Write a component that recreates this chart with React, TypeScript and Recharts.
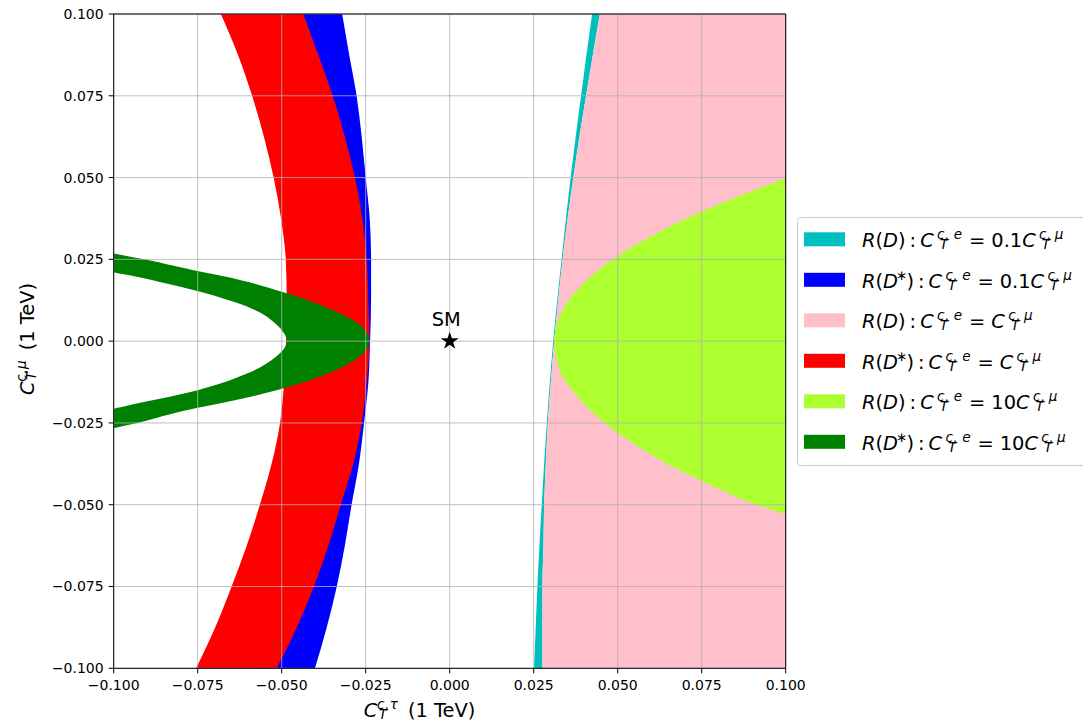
import React from 'react'
import {
  ComposedChart,
  Area,
  XAxis,
  YAxis,
  ReferenceLine,
  ReferenceDot,
  Legend,
} from 'recharts'

const ticks = [-0.1, -0.075, -0.05, -0.025, 0, 0.025, 0.05, 0.075, 0.1]

// common y grid for the wide bands
const bandY = [-0.1, -0.0875, -0.075, -0.0625, -0.05, -0.0375, -0.025, -0.0125, 0, 0.0125, 0.025, 0.0375, 0.05, 0.0625, 0.075, 0.0875, 0.1]

// R(D): C_T^e = 0.1 C_T^mu  (cyan)
const cyanLo = [0.0251, 0.0256, 0.0261, 0.0267, 0.0274, 0.0281, 0.0289, 0.0298, 0.0308, 0.032, 0.0333, 0.0346, 0.036, 0.0375, 0.0391, 0.0407, 0.0424]
const cyanHi = [0.0276, 0.0276, 0.0276, 0.0279, 0.0281, 0.0286, 0.0292, 0.0301, 0.0311, 0.0323, 0.0336, 0.0351, 0.0368, 0.0386, 0.0406, 0.0426, 0.0447]

// R(D*): C_T^e = 0.1 C_T^mu  (blue, inner edge hidden under red)
const blueLo = [-0.058, -0.052, -0.047, -0.042, -0.038, -0.035, -0.032, -0.031, -0.03, -0.03, -0.031, -0.032, -0.034, -0.037, -0.041, -0.045, -0.05]
const blueHi = [-0.0401, -0.0366, -0.0336, -0.0312, -0.0292, -0.027, -0.0255, -0.0242, -0.0237, -0.0234, -0.0234, -0.0238, -0.025, -0.0262, -0.0277, -0.0299, -0.032]

// R(D): C_T^e = C_T^mu  (pink)
const pinkLo = [0.0276, 0.0276, 0.0276, 0.0279, 0.0281, 0.0286, 0.0292, 0.0301, 0.0311, 0.0323, 0.0336, 0.0351, 0.0368, 0.0386, 0.0406, 0.0426, 0.0447]
const pinkHi = [0.1, 0.1, 0.1, 0.1, 0.1, 0.1, 0.1, 0.1, 0.1, 0.1, 0.1, 0.1, 0.1, 0.1, 0.1, 0.1, 0.1]

// R(D*): C_T^e = C_T^mu  (red)
const redLo = [-0.0755, -0.0698, -0.0649, -0.0604, -0.0565, -0.053, -0.0505, -0.0493, -0.0487, -0.0485, -0.0488, -0.0502, -0.0524, -0.0553, -0.0588, -0.063, -0.0681]
const redHi = [-0.0515, -0.0455, -0.0404, -0.0361, -0.0324, -0.0287, -0.0262, -0.0247, -0.0239, -0.0242, -0.0247, -0.026, -0.0282, -0.0312, -0.0348, -0.0391, -0.0436]

// R(D): C_T^e = 10 C_T^mu  (greenyellow)
const limeY = [-0.0529, -0.05, -0.045, -0.04, -0.035, -0.03, -0.025, -0.02, -0.015, -0.01, -0.005, 0, 0.005, 0.01, 0.015, 0.02, 0.025, 0.03, 0.035, 0.04, 0.045, 0.0498]
const limeLo = [0.1, 0.0911, 0.0797, 0.0695, 0.0605, 0.0527, 0.0461, 0.0407, 0.0365, 0.0331, 0.0317, 0.0311, 0.0318, 0.0339, 0.0374, 0.0423, 0.0486, 0.0563, 0.0654, 0.0759, 0.0878, 0.1]
const limeHi = [0.1, 0.1, 0.1, 0.1, 0.1, 0.1, 0.1, 0.1, 0.1, 0.1, 0.1, 0.1, 0.1, 0.1, 0.1, 0.1, 0.1, 0.1, 0.1, 0.1, 0.1, 0.1]

// R(D*): C_T^e = 10 C_T^mu  (green)
const greenY = [-0.0266, -0.025, -0.0208, -0.02, -0.015, -0.01, -0.005, 0, 0.005, 0.01, 0.015, 0.02, 0.0212, 0.025, 0.0268]
const greenLo = [-0.1, -0.1, -0.1, -0.097, -0.075, -0.0605, -0.052, -0.0485, -0.0515, -0.059, -0.074, -0.0945, -0.1, -0.1, -0.1]
const greenHi = [-0.1, -0.093, -0.077, -0.073, -0.0515, -0.0365, -0.0272, -0.0239, -0.0268, -0.036, -0.0497, -0.068, -0.074, -0.091, -0.1]

const smX = [0]
const smY = [0]

const legendColors = ['#00bfbf', '#0000ff', '#ffc0cb', '#ff0000', '#adff2f', '#008000']
const legendStar = [false, true, false, true, false, true]
const legendCoef = ['0.1', '0.1', '', '', '10', '10']

const band = (ys: number[], lo: number[], hi: number[]) => ys.map((y, i) => ({ y, x: [lo[i], hi[i]] }))

const fmt = (v: number) => (v < 0 ? '\u2212' : '') + Math.abs(v).toFixed(3)

const FONT = 'DejaVu Sans, sans-serif'

// C_T^{a,b} drawn with svg tspans (sub and sup stacked)
function CT({ a, b, fs, cDx = 0, tDx, sDx, gap }: { a: string; b: string; fs: number; cDx?: number; tDx: number; sDx: number; gap: number }) {
  const s = fs * 0.7
  return (
    <>
      <tspan fontStyle="italic" dx={cDx}>C</tspan>
      <tspan fontStyle="italic" fontSize={s} dx={tDx} dy={2}>T</tspan>
      <tspan fontSize={s} dx={-s * 0.611 + sDx} dy={-10}>
        <tspan fontStyle="italic">{a}</tspan>
        <tspan>,</tspan>
        <tspan fontStyle="italic" dx={gap}>{b}</tspan>
      </tspan>
      <tspan dy={8}>{'\u200A'}</tspan>
    </>
  )
}

function XTitle() {
  return (
    <text x={419.5} y={717} textAnchor="middle" fontSize={19.4} fontFamily={FONT} fill="#000">
      <CT a="c" b="τ" fs={19.4} tDx={1.5} sDx={0} gap={1} />
      <tspan dx={8}>(1 TeV)</tspan>
    </text>
  )
}

function YTitle() {
  return (
    <text x={33.5} y={339} transform="rotate(-90 33.5 339)" textAnchor="middle" fontSize={19.4} fontFamily={FONT} fill="#000">
      <CT a="c" b="μ" fs={19.4} tDx={1.5} sDx={0} gap={1} />
      <tspan dx={8}>(1 TeV)</tspan>
    </text>
  )
}

function StarMark(props: any) {
  const { cx, cy } = props
  const R = 9.5
  const r = R * 0.382
  const pts: string[] = []
  for (let k = 0; k < 10; k++) {
    const a = (Math.PI / 5) * k - Math.PI / 2
    const rad = k % 2 === 0 ? R : r
    pts.push(`${cx + rad * Math.cos(a)},${cy + rad * Math.sin(a)}`)
  }
  return (
    <g>
      <polygon points={pts.join(' ')} fill="#000" />
      <text x={cx - 3.5} y={cy - 15} textAnchor="middle" fontSize={19.4} fontFamily={FONT} fill="#000">
        SM
      </text>
    </g>
  )
}

function LegendBox() {
  const fs = 19.4
  return (
    <svg width={292} height={250} style={{ overflow: 'visible', display: 'block' }}>
      <rect x={0.5} y={0.5} width={300} height={248} rx={3} fill="#fff" stroke="#cccccc" />
      {legendColors.map((c, i) => {
        const cy = 22.3 + i * 40.5
        const star = legendStar[i]
        return (
          <g key={c}>
            <rect x={7} y={cy - 7} width={41} height={14} fill={c} />
            <text x={65} y={cy + 7.7} fontSize={fs} fontFamily={FONT} fill="#000">
              <tspan fontStyle="italic">R</tspan>
              <tspan>(</tspan>
              <tspan fontStyle="italic">D</tspan>
              {star && <tspan fontSize={fs * 0.7} dx={-2} dy={-7.6}>∗</tspan>}
              <tspan dx={star ? -1 : 0} dy={star ? 7.6 : 0}>)</tspan>
              <tspan dx={4}>:</tspan>
              <CT a="c" b="e" fs={fs} cDx={4} tDx={6} sDx={-1} gap={5} />
              <tspan dx={5}>=</tspan>
              {legendCoef[i] ? <tspan dx={6}>{legendCoef[i]}</tspan> : null}
              <CT a="c" b="μ" fs={fs} cDx={legendCoef[i] ? 0 : 6} tDx={6} sDx={-1} gap={4} />
            </text>
          </g>
        )
      })}
    </svg>
  )
}

const tickStyle = { fill: '#000', fontSize: 14, fontFamily: FONT }

export default function App() {
  return (
    <div style={{ position: 'absolute', left: 0, top: 0, width: 1083, height: 727, background: '#fff' }}>
      <ComposedChart
        width={1083}
        height={727}
        layout="vertical"
        margin={{ top: 14, right: 297.3, bottom: 8.7, left: 13.7 }}
      >
        <XAxis
          type="number"
          domain={[-0.1, 0.1]}
          ticks={ticks}
          interval={0}
          allowDataOverflow
          tickFormatter={fmt}
          tick={tickStyle}
          tickSize={5}
          tickMargin={7}
          height={50}
          axisLine={{ stroke: '#000', strokeWidth: 1 }}
          tickLine={{ stroke: '#000', strokeWidth: 1 }}
          label={<XTitle />}
        />
        <YAxis
          type="number"
          dataKey="y"
          domain={[-0.1, 0.1]}
          ticks={ticks}
          interval={0}
          reversed
          allowDataOverflow
          tickFormatter={fmt}
          tick={tickStyle}
          tickSize={5}
          tickMargin={5}
          width={100}
          axisLine={{ stroke: '#000', strokeWidth: 1 }}
          tickLine={{ stroke: '#000', strokeWidth: 1 }}
          label={<YTitle />}
        />
        <Area data={band(bandY, cyanLo, cyanHi)} dataKey="x" type="monotone" stroke="none" fill={legendColors[0]} fillOpacity={1} dot={false} activeDot={false} isAnimationActive={false} />
        <Area data={band(bandY, blueLo, blueHi)} dataKey="x" type="monotone" stroke="none" fill={legendColors[1]} fillOpacity={1} dot={false} activeDot={false} isAnimationActive={false} />
        <Area data={band(bandY, pinkLo, pinkHi)} dataKey="x" type="monotone" stroke="none" fill={legendColors[2]} fillOpacity={1} dot={false} activeDot={false} isAnimationActive={false} />
        <Area data={band(bandY, redLo, redHi)} dataKey="x" type="monotone" stroke="none" fill={legendColors[3]} fillOpacity={1} dot={false} activeDot={false} isAnimationActive={false} />
        <Area data={band(limeY, limeLo, limeHi)} dataKey="x" type="monotone" stroke="none" fill={legendColors[4]} fillOpacity={1} dot={false} activeDot={false} isAnimationActive={false} />
        <Area data={band(greenY, greenLo, greenHi)} dataKey="x" type="monotone" stroke="none" fill={legendColors[5]} fillOpacity={1} dot={false} activeDot={false} isAnimationActive={false} />
        {ticks.map((t) => (
          <ReferenceLine key={'gx' + t} x={t} stroke="#b0b0b0" strokeWidth={0.8} />
        ))}
        {ticks.map((t) => (
          <ReferenceLine key={'gy' + t} y={t} stroke="#b0b0b0" strokeWidth={0.8} />
        ))}
        <ReferenceLine x={0.1} stroke="#000" strokeWidth={1} />
        <ReferenceLine y={0.1} stroke="#000" strokeWidth={1} />
        <ReferenceDot x={smX[0]} y={smY[0]} r={9} shape={<StarMark />} />
        <Legend
          layout="vertical"
          align="center"
          verticalAlign="middle"
          content={() => <LegendBox />}
          wrapperStyle={{ position: 'absolute', left: 797, top: 217, width: 292, height: 250 }}
        />
      </ComposedChart>
    </div>
  )
}
